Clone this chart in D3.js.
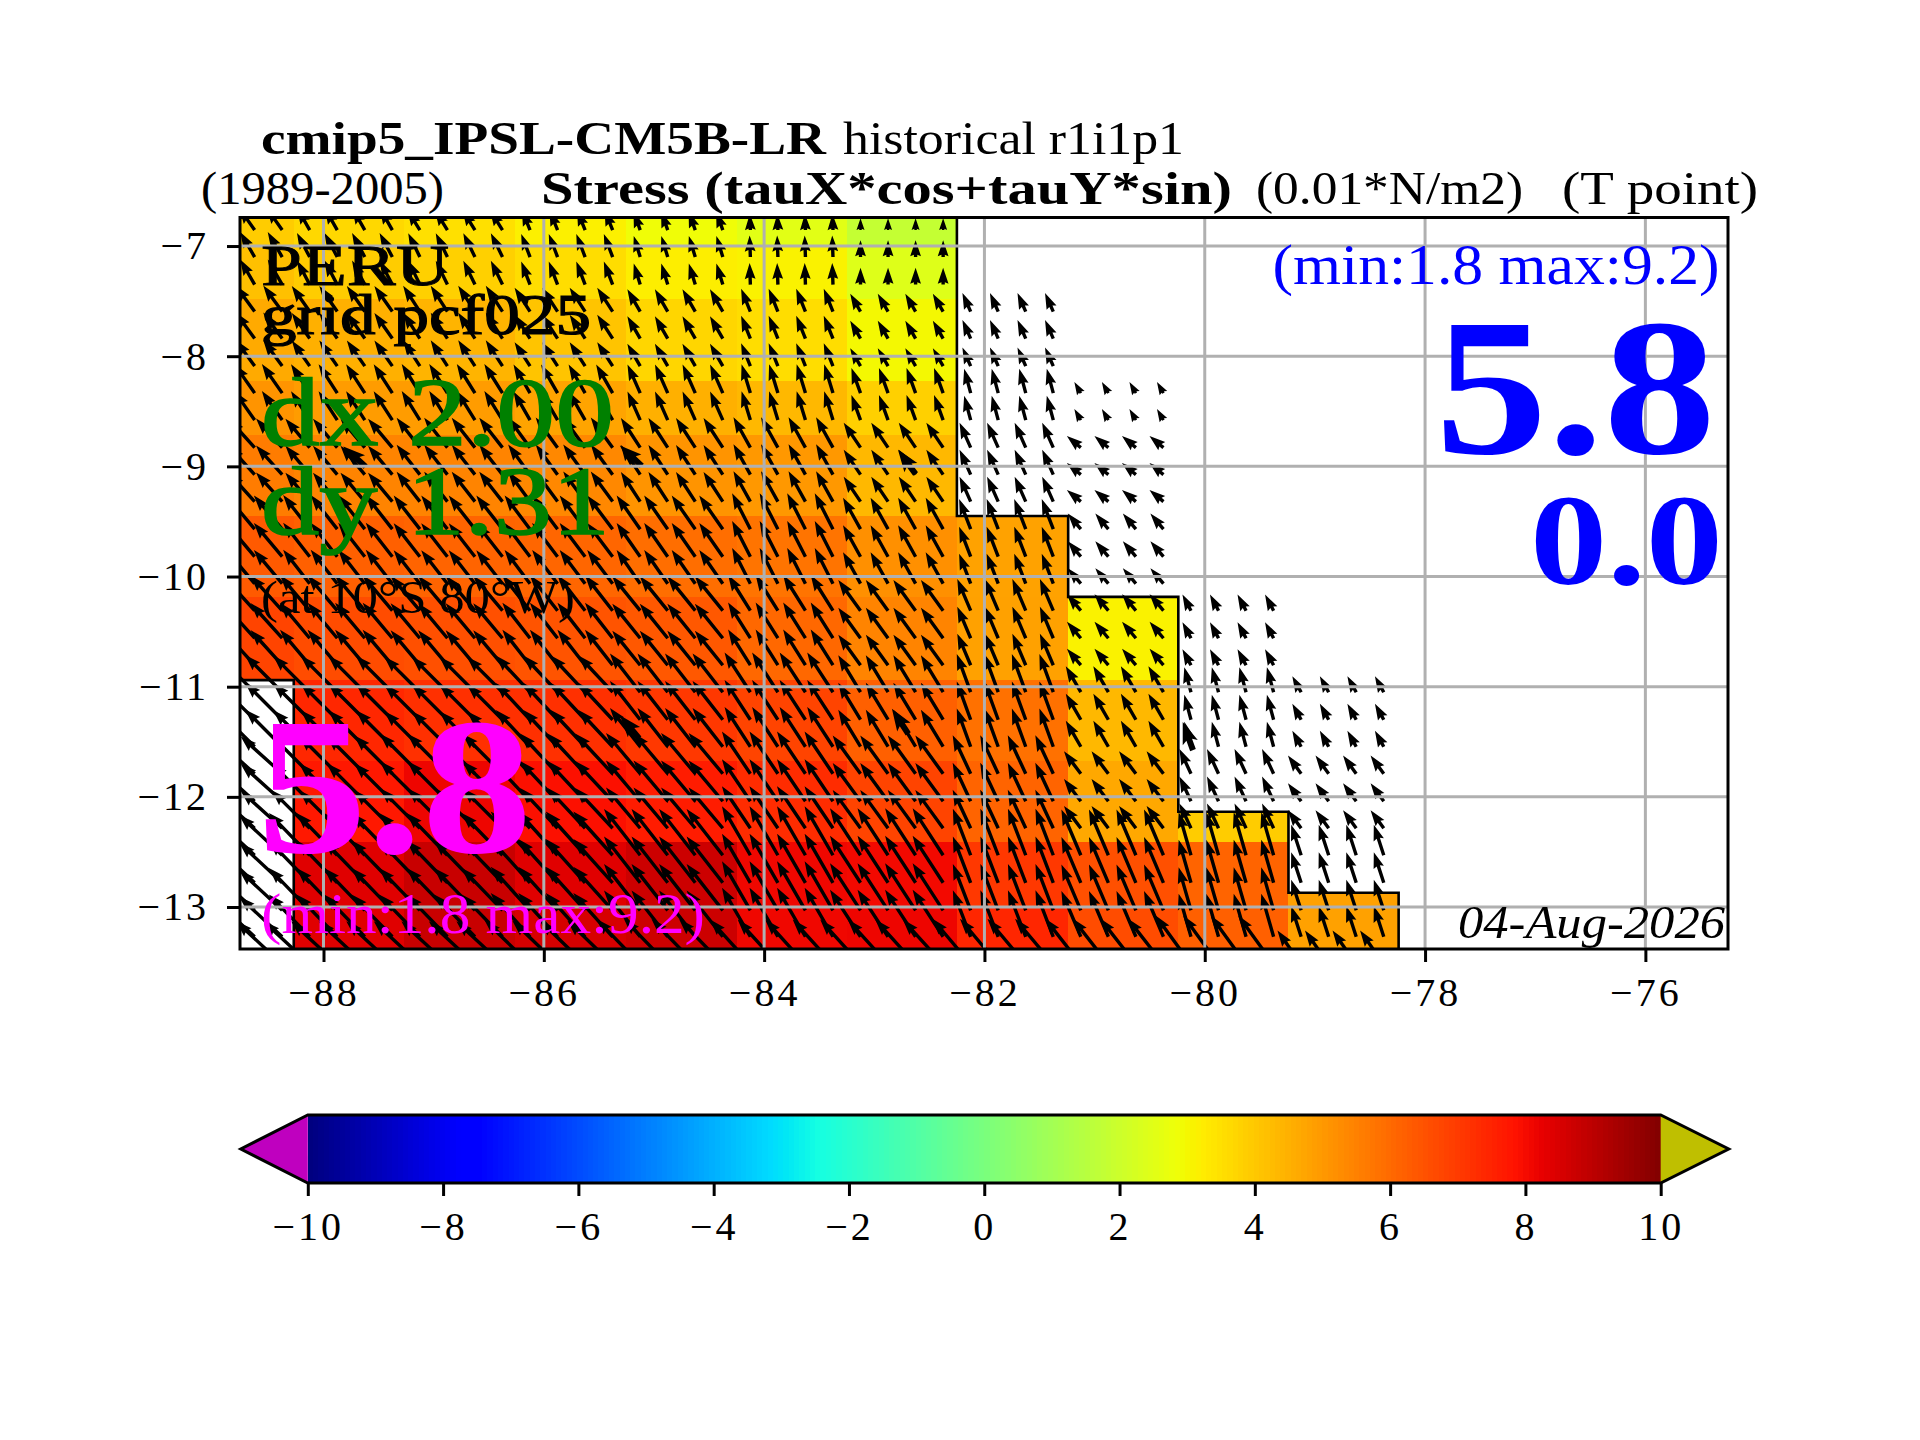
<!DOCTYPE html>
<meta charset="utf-8">
<html>
<head>
<script src="https://cdn.jsdelivr.net/npm/d3@7"></script>
<style>
  body { margin: 0; background: #fff; }
  svg { display: block; }
  text { font-family: "Liberation Serif", serif; }
  .axis text { font-size: 40px; fill: #000; letter-spacing: 3px; }
  .axis line, .axis path { stroke: #000; stroke-width: 3px; }
</style>
</head>
<body>
<svg id="fig" width="1920" height="1440"></svg>
<script>
// tick labels
var lonTicks = [-88, -86, -84, -82, -80, -78, -76];
var latTicks = [-7, -8, -9, -10, -11, -12, -13];
var barTicks = [-10, -8, -6, -4, -2, 0, 2, 4, 6, 8, 10];

// edges of the coloured cells (deg)
var lonEdges = [-88.758, -88.27, -87.27, -86.26, -85.25, -84.25, -83.25, -82.25, -81.24, -80.24, -79.24, -78.24];
var latEdges = [-6.741, -7.0, -7.48, -8.225, -8.715, -9.45, -10.185, -10.94, -11.67, -12.41, -13.0, -13.381];

// stress per cell (0.01*N/m2), null = masked
var cellValues = [
  [3.88, 3.62, 3.46, 3.12, 2.84, 2.5, 1.76, null, null, null, null],
  [4.13, 3.88, 3.8, 3.52, 3.16, 3.08, 2.4, null, null, null, null],
  [4.6, 4.47, 4.39, 4.05, 3.67, 3.52, 2.94, null, null, null, null],
  [5.06, 4.9, 4.9, 4.72, 4.47, 4.3, 3.8, null, null, null, null],
  [5.58, 5.4, 5.4, 5.32, 5.06, 4.98, 4.3, null, null, null, null],
  [6.3, 6.17, 6.08, 6.04, 5.87, 5.74, 5.15, 4.77, null, null, null],
  [6.76, 6.6, 6.5, 6.42, 6.34, 6.0, 5.4, 4.8, 3.08, null, null],
  [null, 7.37, 7.18, 7.18, 7.02, 6.76, 6.17, 5.8, 4.3, null, null],
  [null, 7.7, 8.1, 7.86, 7.6, 7.26, 6.76, 6.08, 4.64, 3.88, null],
  [null, 8.34, 8.75, 8.34, 8.68, 8.06, 8.0, 7.02, 6.5, 6.08, 4.8],
  [null, 8.34, 8.75, 8.5, 8.68, 8.06, 8.1, 7.4, 6.6, 6.17, 4.8]
];

// mask boundary, lon/lat pairs
var coastStairs = [[-82.25, -6.741], [-82.25, -9.45], [-81.24, -9.45], [-81.24, -10.185], [-80.24, -10.185],
  [-80.24, -12.135], [-79.24, -12.135], [-79.24, -12.87], [-78.24, -12.87], [-78.24, -13.381]];
var coastLeft = [[-88.27, -13.381], [-88.27, -10.94], [-88.758, -10.94]];

// arrow positions, one list per column / row of native cells
var arrowLons = [
  [-88.625, -88.375],
  [-88.125, -87.875, -87.625, -87.375],
  [-87.125, -86.875, -86.625, -86.375],
  [-86.125, -85.875, -85.625, -85.375],
  [-85.125, -84.875, -84.625, -84.375],
  [-84.125, -83.875, -83.625, -83.375],
  [-83.125, -82.875, -82.625, -82.375],
  [-82.125, -81.875, -81.625, -81.375],
  [-81.125, -80.875, -80.625, -80.375],
  [-80.125, -79.875, -79.625, -79.375],
  [-79.125, -78.875, -78.625, -78.375]
];
var arrowLats = [
  [-6.855],
  [-7.10, -7.35],
  [-7.595, -7.84, -8.09],
  [-8.335, -8.58],
  [-8.83, -9.075, -9.32],
  [-9.57, -9.82, -10.065],
  [-10.31, -10.56, -10.805],
  [-11.05, -11.30, -11.545],
  [-11.79, -12.04, -12.285],
  [-12.53, -12.78, -13.03, -13.27],
  [-13.52]
];
// direction in degrees west of north
var arrowAngle = [
  [35, 30, 32, 22, 20, 2, 0, null, null, null, null],
  [30, 28, 26, 21, 17, 2, 0, null, null, null, null],
  [36, 35, 33, 33, 30, 22, 30, 24, null, null, null],
  [35, 33, 32, 30, 24, 17, 20, 15, 30, null, null],
  [42, 40, 38, 36, 33, 29, 34, 24, 50, null, null],
  [40, 38, 38, 37, 35, 27, 29, 21, 40, null, null],
  [42, 40, 40, 38, 39, 32, 36, 23, 40, 28, null],
  [45, 45, 45, 43, 38, 33, 31, 20, 30, 15, 29],
  [48, 45, 45, 43, 40, 34, 36, 25, 37, 25, 36],
  [47, 44, 44, 42, 38, 30, 33, 21, 23, 16, 18],
  [47, 47, 47, 46, 44, 42, 42, 40, 38, 36, 35]
];
// arrow length in stress units
var arrowMag = [
  [3.88, 3.6, 3.4, 3.1, 2.8, 2.3, 1.7, null, null, null, null],
  [4.13, 3.88, 3.8, 3.52, 3.16, 3.08, 2.4, null, null, null, null],
  [4.6, 4.47, 4.39, 4.05, 3.67, 3.52, 2.94, 2.9, null, null, null],
  [5.06, 4.9, 4.9, 4.72, 4.47, 4.3, 3.8, 3.6, 1.85, null, null],
  [5.58, 5.4, 5.4, 5.32, 5.06, 4.98, 4.3, 3.9, 2.6, null, null],
  [6.3, 6.17, 6.08, 6.04, 5.87, 5.74, 5.15, 4.6, 2.9, null, null],
  [6.76, 6.6, 6.5, 6.42, 6.34, 6.0, 5.4, 4.9, 3.08, 2.6, null],
  [7.5, 7.37, 7.18, 7.18, 7.02, 6.76, 6.17, 5.8, 4.3, 3.7, 2.6],
  [8, 7.7, 8.1, 7.86, 7.6, 7.26, 6.76, 6.08, 4.0, 3.9, 3.2],
  [8.4, 8.4, 8.4, 8.4, 8.4, 8.1, 8, 7.1, 7.1, 6.4, 4.6],
  [9, 9, 9, 9, 9, 8.6, 8.6, 8.5, 8.3, 8.6, 5.9]
];
// the few heavier arrow heads: tip lon, tip lat, direction
var heavyLons = [-87.82, -85.31, -82.785, -85.31, -82.84, -80.2];
var heavyLats = [-8.82, -8.81, -8.85, -11.26, -11.2, -11.32];
var heavyAngle = [48, 47, 36, 40, 33, 20];

var svg = d3.select("#fig");

var x = d3.scaleLinear().domain([-88.758, -75.25]).range([240, 1728]);
var y = d3.scaleLinear().domain([-6.741, -13.381]).range([217.5, 949]);
var barX = d3.scaleLinear().domain([-10, 10]).range([307.8, 1660.7]);

// jet colormap, matplotlib segments
var jetR = d3.scaleLinear().domain([0, 0.35, 0.66, 0.89, 1]).range([0, 0, 1, 1, 0.5]);
var jetG = d3.scaleLinear().domain([0, 0.125, 0.375, 0.64, 0.91, 1]).range([0, 0, 1, 1, 0, 0]);
var jetB = d3.scaleLinear().domain([0, 0.11, 0.34, 0.65, 1]).range([0.5, 1, 1, 0, 0]);
function colour(v) {
  var t = (v + 10) / 20;
  return d3.rgb(jetR(t) * 255, jetG(t) * 255, jetB(t) * 255).formatHex();
}

var line = d3.line().x(function(d) { return x(d[0]); }).y(function(d) { return y(d[1]); });

var defs = svg.append("defs");
defs.append("clipPath").attr("id", "axclip").append("rect")
  .attr("x", 240).attr("y", 217.5).attr("width", 1488).attr("height", 731.5);
var ocean = [[-88.758, -6.741]].concat(coastStairs, coastLeft);
defs.append("clipPath").attr("id", "oceanclip").append("path").attr("d", line(ocean) + "Z");

// cells
var cells = svg.append("g").attr("clip-path", "url(#oceanclip)").attr("shape-rendering", "crispEdges");
cellValues.forEach(function(row, r) {
  row.forEach(function(v, c) {
    if (v === null) return;
    cells.append("rect")
      .attr("x", x(lonEdges[c]))
      .attr("y", y(latEdges[r]))
      .attr("width", x(lonEdges[c + 1]) - x(lonEdges[c]))
      .attr("height", y(latEdges[r + 1]) - y(latEdges[r]))
      .attr("fill", colour(v));
  });
});

var plot = svg.append("g").attr("clip-path", "url(#axclip)");
plot.append("path").attr("d", line(coastStairs)).attr("fill", "none").attr("stroke", "#000").attr("stroke-width", 2.6);
plot.append("path").attr("d", line(coastLeft)).attr("fill", "none").attr("stroke", "#000").attr("stroke-width", 2.6);

// quiver, same look as matplotlib's arrow
var arrowScale = 7, shaft = 3.4;
function arrowPath(L) {
  var s = Math.min(1, L / 16), w = shaft / 2 * s, hl = 16 * s, ha = 14.4 * s, hw = 5.4 * s;
  return "M0," + (-w) + "L" + (L - ha) + "," + (-w) + "L" + (L - hl) + "," + (-hw) + "L" + L + ",0L" + (L - hl) + "," + hw +
    "L" + (L - ha) + "," + w + "L0," + w + "Z";
}
var arrows = plot.append("g");
arrowLats.forEach(function(lats, r) {
  arrowLons.forEach(function(lons, c) {
    if (arrowMag[r][c] === null) return;
    lats.forEach(function(la) {
      lons.forEach(function(lo) {
        arrows.append("path")
          .attr("d", arrowPath(arrowMag[r][c] * arrowScale))
          .attr("transform", "translate(" + x(lo) + "," + y(la) + ") rotate(" + (-(90 + arrowAngle[r][c])) + ")")
          .attr("fill", "#000");
      });
    });
  });
});
heavyLons.forEach(function(lo, i) {
  arrows.append("path")
    .attr("d", "M0,0L-22,-8L-19,-3L-30,-3L-30,3L-19,3L-22,8Z")
    .attr("transform", "translate(" + x(lo) + "," + y(heavyLats[i]) + ") rotate(" + (-(90 + heavyAngle[i])) + ")")
    .attr("fill", "#000");
});

// grid above the arrows
var grid = svg.append("g").attr("stroke", "#b0b0b0").attr("stroke-width", 3);
lonTicks.forEach(function(t) {
  grid.append("line").attr("x1", x(t)).attr("x2", x(t)).attr("y1", 217.5).attr("y2", 949);
});
latTicks.forEach(function(t) {
  grid.append("line").attr("x1", 240).attr("x2", 1728).attr("y1", y(t)).attr("y2", y(t));
});

// axes
var axB = d3.axisBottom(x).tickValues(lonTicks).tickSize(13).tickPadding(16).tickFormat(d3.format("d"));
svg.append("g").attr("class", "axis").attr("transform", "translate(0,949)").call(axB);
var axL = d3.axisLeft(y).tickValues(latTicks).tickSize(13).tickPadding(18).tickFormat(d3.format("d"));
svg.append("g").attr("class", "axis").attr("transform", "translate(240,0)").call(axL);
svg.selectAll(".axis .domain").remove();
svg.append("rect").attr("x", 240).attr("y", 217.5).attr("width", 1488).attr("height", 731.5)
  .attr("fill", "none").attr("stroke", "#000").attr("stroke-width", 3);

// text inside and around the map
function label(s, px, py, size, len, col, weight, style, thick) {
  svg.append("text").text(s).attr("x", px).attr("y", py)
    .attr("font-size", size)
    .attr("textLength", len).attr("lengthAdjust", "spacingAndGlyphs")
    .attr("fill", col || "#000")
    .attr("stroke", thick ? (col || "#000") : "none")
    .attr("stroke-width", thick || 0)
    .attr("font-weight", weight || "normal")
    .attr("font-style", style || "normal");
}
label("cmip5_IPSL-CM5B-LR", 261, 154, 46, 565, "#000", "bold");
label("historical r1i1p1", 843, 154, 46, 341);
label("(1989-2005)", 201, 204, 46, 243);
label("Stress (tauX*cos+tauY*sin)", 541, 204, 46, 691, "#000", "bold");
label("(0.01*N/m2)", 1256, 204, 46, 267);
label("(T point)", 1562, 204, 46, 196);

label("PERU", 261, 284.7, 57, 188, "#000", "normal", "normal", 0.8);
label("grid pcf025", 261, 333.7, 57, 330, "#000", "normal", "normal", 1.2);
label("dx 2.00", 261, 445, 98, 353, "#008000", "normal", "normal", 1.6);
label("dy 1.31", 261, 533.7, 98, 349, "#008000", "normal", "normal", 1.6);
label("(at 10\u00b0S 80\u00b0W)", 261, 613, 46, 314);
label("5.8", 257, 851.7, 196, 275, "#ff00ff", "bold");
label("(min:1.8 max:9.2)", 261, 933, 57, 444, "#ff00ff");
label("(min:1.8 max:9.2)", 1272.5, 283.7, 57, 447, "#0000ff");
label("5.8", 1435, 453, 196, 281, "#0000ff", "bold");
label("0.0", 1530, 584, 130, 193, "#0000ff", "bold");
label("04-Aug-2026", 1458, 938, 47, 267, "#000", "normal", "italic");

// colorbar
var barTop = 1115, barBottom = 1183, barMid = 1149;
var bar = svg.append("g").attr("shape-rendering", "crispEdges");
var levels = d3.range(-10, 10, 20 / 256);
bar.selectAll("rect").data(levels).enter().append("rect")
  .attr("x", function(d) { return barX(d); })
  .attr("y", barTop)
  .attr("width", barX(-10 + 20 / 256) - barX(-10) + 0.6)
  .attr("height", barBottom - barTop)
  .attr("fill", function(d) { return colour(d); });
svg.append("path")
  .attr("d", "M" + barX(-10) + "," + barTop + "L" + (barX(-10) - 67) + "," + barMid + "L" + barX(-10) + "," + barBottom + "Z")
  .attr("fill", "#bf00bf");
svg.append("path")
  .attr("d", "M" + barX(10) + "," + barTop + "L" + (barX(10) + 68) + "," + barMid + "L" + barX(10) + "," + barBottom + "Z")
  .attr("fill", "#bfbf00");
svg.append("path")
  .attr("d", "M" + barX(-10) + "," + barTop + "L" + barX(10) + "," + barTop + "L" + (barX(10) + 68) + "," + barMid + "L" + barX(10) + "," + barBottom +
    "L" + barX(-10) + "," + barBottom + "L" + (barX(-10) - 67) + "," + barMid + "Z")
  .attr("fill", "none").attr("stroke", "#000").attr("stroke-width", 3);
var axBar = d3.axisBottom(barX).tickValues(barTicks).tickSize(13).tickPadding(16).tickFormat(d3.format("d"));
svg.append("g").attr("class", "axis").attr("transform", "translate(0," + barBottom + ")").call(axBar)
  .select(".domain").remove();
</script>
</body>
</html>
